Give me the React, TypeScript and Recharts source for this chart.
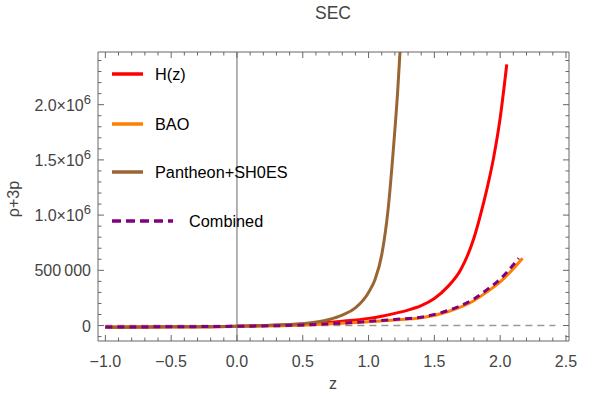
import { LineChart, Line, XAxis, YAxis, ReferenceLine } from 'recharts';

const FONT = '"Liberation Sans", Arial, sans-serif';

// H(z) fit
const zH = [-1.0, -0.5, 0.0, 0.5, 0.8, 1.0, 1.1, 1.2, 1.3, 1.4, 1.5, 1.6, 1.7, 1.8, 1.85, 1.9, 1.95, 2.0, 2.05];
const rhoH = [-15000, -12000, -6000, 15000, 40000, 65000, 85000, 110000, 140000, 180000, 245000, 350000, 505000, 790000, 1000000, 1240000, 1520000, 1880000, 2365000];

// BAO fit
const zBAO = [-1.0, -0.5, 0.0, 0.5, 0.8, 1.0, 1.2, 1.4, 1.6, 1.8, 1.9, 2.0, 2.1, 2.17];
const rhoBAO = [-15000, -12000, -8000, 3000, 20000, 35000, 50000, 70000, 125000, 225000, 305000, 395000, 515000, 610000];

// Pantheon+SH0ES fit
const zPan = [-1.0, -0.5, 0.0, 0.3, 0.5, 0.7, 0.8, 0.9, 1.0, 1.05, 1.1, 1.15, 1.19, 1.22, 1.245];
const rhoPan = [-15000, -12000, -6000, 5000, 17000, 55000, 95000, 160000, 300000, 420000, 640000, 1070000, 1620000, 2100000, 2600000];

// Combined fit
const zComb = [-1.0, -0.5, 0.0, 0.5, 0.8, 1.0, 1.2, 1.4, 1.6, 1.8, 1.9, 2.0, 2.1, 2.14];
const rhoComb = [-14000, -11000, -7000, 5000, 22000, 38000, 55000, 76000, 135000, 240000, 325000, 420000, 550000, 610000];

// zero reference
const zZero = [-1.0, 2.42];
const rhoZero = [0, 0];

const xMajorTicks = [-1, -0.5, 0, 0.5, 1, 1.5, 2, 2.5];
const xTickLabels = ['\u22121.0', '\u22120.5', '0.0', '0.5', '1.0', '1.5', '2.0', '2.5'];
const yMajorTicks = [0, 500000, 1000000, 1500000, 2000000];
const yTickLabels = ['0', '500\u2009000', '1.0\u00d710^6', '1.5\u00d710^6', '2.0\u00d710^6'];

const xAllTicks: number[] = [];
for (let i = -10; i <= 25; i++) xAllTicks.push(i / 10);
const yAllTicks: number[] = [];
for (let i = -1; i <= 24; i++) yAllTicks.push(i * 100000);

const legendItems = [
  { name: 'H(z)', color: '#ff0000', dash: undefined },
  { name: 'BAO', color: '#ff8000', dash: undefined },
  { name: 'Pantheon+SH0ES', color: '#996633', dash: undefined },
  { name: 'Combined', color: '#800080', dash: '9 5' },
];

const toPoints = (zs: number[], vs: number[]) => zs.map((z, i) => ({ z, v: vs[i] }));

const FRAME = '#666';
const LABEL = '#444';
const MARGIN = { top: 51, right: 30, bottom: 0, left: 0 };
const PLOT_TOP = MARGIN.top + 1;
const PLOT_RIGHT = 600 - MARGIN.right - 1;

// bottom tick also mirrors onto the top frame edge
const XTick = (props: any) => {
  const { x, y, payload } = props;
  const idx = xMajorTicks.findIndex((t) => Math.abs(t - payload.value) < 1e-6);
  const len = idx >= 0 ? 6 : 3.5;
  return (
    <g>
      <line x1={x} y1={y} x2={x} y2={y - len} stroke={FRAME} strokeWidth={1} />
      <line x1={x} y1={PLOT_TOP} x2={x} y2={PLOT_TOP + len} stroke={FRAME} strokeWidth={1} />
      {idx >= 0 && (
        <text x={x} y={y + 26} textAnchor="middle" fontSize={16} fill={LABEL} fontFamily={FONT}>
          {xTickLabels[idx]}
        </text>
      )}
    </g>
  );
};

// left tick also mirrors onto the right frame edge
const YTick = (props: any) => {
  const { x, y, payload } = props;
  const idx = yMajorTicks.findIndex((t) => Math.abs(t - payload.value) < 1);
  const len = idx >= 0 ? 6 : 3.5;
  const parts = idx >= 0 ? yTickLabels[idx].split('^') : [];
  return (
    <g>
      <line x1={x} y1={y} x2={x + len} y2={y} stroke={FRAME} strokeWidth={1} />
      <line x1={PLOT_RIGHT} y1={y} x2={PLOT_RIGHT - len} y2={y} stroke={FRAME} strokeWidth={1} />
      {idx >= 0 && (
        <text x={x - 7} y={y + 6} textAnchor="end" fontSize={16} fill={LABEL} fontFamily={FONT}>
          {parts[0]}
          {parts[1] && (
            <tspan dy={-7} fontSize={13}>
              {parts[1]}
            </tspan>
          )}
        </text>
      )}
    </g>
  );
};

const App = () => {
  return (
    <div style={{ position: 'absolute', left: 0, top: 0, width: 600, height: 396, background: '#fff' }}>
      <LineChart width={600} height={396} margin={MARGIN}>
        <XAxis
          xAxisId="b"
          type="number"
          dataKey="z"
          domain={[-1.056, 2.523]}
          allowDataOverflow
          ticks={xAllTicks}
          interval={0}
          tick={<XTick />}
          tickSize={0}
          tickMargin={0}
          tickLine={false}
          axisLine={{ stroke: FRAME }}
          height={55}
        />
        <XAxis
          xAxisId="t"
          orientation="top"
          type="number"
          dataKey="z"
          domain={[-1.056, 2.523]}
          tick={false}
          tickLine={false}
          axisLine={{ stroke: FRAME }}
          height={1}
        />
        <YAxis
          yAxisId="l"
          type="number"
          domain={[-140000, 2477000]}
          allowDataOverflow
          ticks={yAllTicks}
          interval={0}
          tick={<YTick />}
          tickSize={0}
          tickMargin={0}
          tickLine={false}
          axisLine={{ stroke: FRAME }}
          width={98}
        />
        <YAxis
          yAxisId="r"
          orientation="right"
          type="number"
          domain={[-140000, 2477000]}
          tick={false}
          tickLine={false}
          axisLine={{ stroke: FRAME }}
          width={1}
        />
        <ReferenceLine xAxisId="b" yAxisId="l" x={0} stroke={FRAME} strokeWidth={1} />
        <Line
          xAxisId="b"
          yAxisId="l"
          data={toPoints(zZero, rhoZero)}
          dataKey="v"
          type="linear"
          stroke="#999"
          strokeWidth={1.6}
          strokeDasharray="7 5"
          dot={false}
          activeDot={false}
          isAnimationActive={false}
        />
        <Line
          xAxisId="b"
          yAxisId="l"
          data={toPoints(zH, rhoH)}
          dataKey="v"
          type="monotone"
          stroke="#ff0000"
          strokeWidth={3}
          dot={false}
          activeDot={false}
          isAnimationActive={false}
        />
        <Line
          xAxisId="b"
          yAxisId="l"
          data={toPoints(zBAO, rhoBAO)}
          dataKey="v"
          type="monotone"
          stroke="#ff8000"
          strokeWidth={3}
          dot={false}
          activeDot={false}
          isAnimationActive={false}
        />
        <Line
          xAxisId="b"
          yAxisId="l"
          data={toPoints(zPan, rhoPan)}
          dataKey="v"
          type="monotone"
          stroke="#996633"
          strokeWidth={3}
          dot={false}
          activeDot={false}
          isAnimationActive={false}
        />
        <Line
          xAxisId="b"
          yAxisId="l"
          data={toPoints(zComb, rhoComb)}
          dataKey="v"
          type="monotone"
          stroke="#800080"
          strokeWidth={3}
          strokeDasharray="7 5"
          dot={false}
          activeDot={false}
          isAnimationActive={false}
        />
      </LineChart>
      <svg
        width={600}
        height={396}
        style={{ position: 'absolute', left: 0, top: 0, pointerEvents: 'none' }}
        fontFamily={FONT}
      >
        <text x={333} y={19} textAnchor="middle" fontSize={17.5} fill={LABEL}>
          SEC
        </text>
        <text x={333} y={389} textAnchor="middle" fontSize={16} fill={LABEL}>
          z
        </text>
        <text x={19} y={199} textAnchor="middle" fontSize={16} fill={LABEL} transform="rotate(-90 19 199)">
          ρ+3p
        </text>
        {legendItems.map((item, i) => {
          const y = [74, 124, 172, 221][i];
          const dashed = !!item.dash;
          return (
            <g key={item.name}>
              <line
                x1={112}
                y1={y}
                x2={dashed ? 173 : 143}
                y2={y}
                stroke={item.color}
                strokeWidth={3.5}
                strokeDasharray={item.dash}
              />
              <text x={dashed ? 189 : 155} y={y + 6} fontSize={16.3} fill="#000">
                {item.name}
              </text>
            </g>
          );
        })}
      </svg>
    </div>
  );
};

export default App;
